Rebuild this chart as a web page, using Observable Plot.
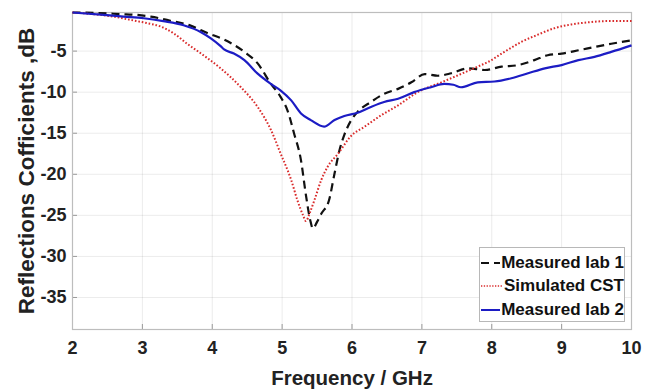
<!DOCTYPE html>
<html>
<head>
<meta charset="utf-8">
<script src="https://cdn.jsdelivr.net/npm/d3@7"></script>
<script src="https://cdn.jsdelivr.net/npm/@observablehq/plot@0.6"></script>
<style>
  html, body { margin: 0; padding: 0; background: #fff; }
  #wrap { position: relative; width: 657px; height: 392px; font-family: "Liberation Sans", Arial, sans-serif; }
  #legend { position: absolute; left: 479px; top: 247px; width: 146px; height: 75px; background: #fff; border: 1px solid #b8b8b8; box-sizing: border-box; padding-top: 3px; }
  .row { display: flex; align-items: center; height: 23.5px; font-weight: bold; font-size: 17px; color: #111; white-space: nowrap; }
  .row svg { margin-left: 1px; margin-right: 1px; }
</style>
</head>
<body>
<div id="wrap"><div id="chart"></div><div id="legend"></div></div>
<script>
// ---- data ----
const freqLab1 = [2.0,2.3,2.69,2.93,3.12,3.4,3.69,3.93,4.17,4.46,4.65,4.84,4.98,5.08,5.17,5.27,5.34,5.40,5.44,5.50,5.56,5.67,5.75,5.82,5.89,5.99,6.08,6.27,6.46,6.66,6.85,7.04,7.23,7.42,7.66,7.9,8.14,8.38,8.61,8.8,9.0,9.24,9.47,9.71,10.0];
const lab1 = [-0.3,-0.35,-0.5,-0.6,-0.8,-1.3,-1.9,-2.8,-3.6,-5.1,-6.5,-9.0,-10.6,-12.3,-15.0,-18.3,-22.5,-25.5,-26.6,-25.8,-24.8,-23.2,-19.9,-17.1,-15.2,-13.4,-12.4,-11.2,-10.2,-9.6,-8.8,-7.8,-8.0,-7.7,-7.1,-7.3,-6.9,-6.7,-6.1,-5.5,-5.3,-4.9,-4.5,-4.1,-3.7];

const freqSim = [2.0,2.3,2.59,2.83,3.07,3.26,3.45,3.64,3.84,4.12,4.41,4.65,4.84,4.98,5.13,5.22,5.30,5.34,5.40,5.46,5.56,5.65,5.8,5.99,6.18,6.42,6.66,6.94,7.28,7.61,7.85,7.95,8.18,8.42,8.66,8.9,9.14,9.38,9.62,10.0];
const sim = [-0.3,-0.5,-0.8,-1.2,-1.6,-2.0,-2.85,-4.1,-5.3,-7.1,-9.4,-11.8,-14.6,-17.5,-20.7,-23.2,-25.0,-25.7,-24.6,-23.2,-20.7,-19.1,-17.5,-15.3,-14.2,-12.8,-11.6,-10.0,-8.8,-7.6,-6.7,-6.3,-5.1,-3.9,-3.0,-2.2,-1.75,-1.5,-1.35,-1.35];

const freqLab2 = [2.0,2.45,2.73,3.02,3.3,3.59,3.84,3.98,4.12,4.17,4.31,4.46,4.65,4.84,4.98,5.13,5.27,5.41,5.6,5.75,5.89,6.08,6.27,6.46,6.66,6.89,7.13,7.32,7.45,7.56,7.8,8.04,8.28,8.52,8.76,9.0,9.24,9.47,9.71,10.0];
const lab2 = [-0.3,-0.6,-0.8,-1.0,-1.35,-1.85,-2.7,-3.45,-4.4,-4.8,-5.3,-6.1,-7.75,-9.0,-9.8,-11.0,-12.6,-13.4,-14.2,-13.4,-12.9,-12.5,-11.8,-11.2,-10.8,-10.0,-9.4,-9.0,-9.1,-9.4,-8.8,-8.7,-8.3,-7.7,-7.1,-6.7,-6.1,-5.7,-5.1,-4.3];

const seriesNames = ["Measured lab 1", "Simulated CST", "Measured lab 2"];
const xTicks = [2,3,4,5,6,7,8,9,10];
const yTicks = [-35,-30,-25,-20,-15,-10,-5];
const xLabel = "Frequency / GHz";
const yLabel = "Reflections Cofficients ,dB";

// ---- styles ----
const styles = [
  {stroke: "#111", strokeWidth: 2.2, dash: "8,5"},
  {stroke: "#d92b2b", strokeWidth: 2, dash: "1.6,1.9"},
  {stroke: "#1c1cc4", strokeWidth: 2.2, dash: null}
];

const toRows = (fs, vs) => fs.map((f, i) => ({f, v: vs[i]}));
const data = [toRows(freqLab1, lab1), toRows(freqSim, sim), toRows(freqLab2, lab2)];

const W = 657, H = 392, mT = 12, mB = 63, mL = 72, mR = 26;
const innerH = H - mT - mB, innerW = W - mL - mR;

const chart = Plot.plot({
  width: W, height: H,
  marginTop: mT, marginBottom: mB, marginLeft: mL, marginRight: mR,
  style: {fontFamily: '"Liberation Sans", Arial, sans-serif', fontWeight: "bold", background: "#fff", color: "#222", overflow: "visible"},
  x: {domain: [2, 10]},
  y: {domain: [-38.9, -0.3]},
  marks: [
    Plot.gridX(xTicks, {stroke: "#000", strokeOpacity: 0.08, strokeWidth: 1}),
    Plot.gridY(yTicks, {stroke: "#000", strokeOpacity: 0.08, strokeWidth: 1}),
    Plot.tickX(xTicks, {x: d => d, insetTop: innerH - 5, stroke: "#999"}),
    Plot.tickY(yTicks, {y: d => d, insetRight: innerW - 5, stroke: "#999"}),
    Plot.frame({stroke: "#bdbdbd", strokeWidth: 1.2}),
    Plot.axisX(xTicks, {tickSize: 0, tickPadding: 12, fontSize: 18, label: null, tickFormat: d => String(d)}),
    Plot.axisY(yTicks, {tickSize: 0, tickPadding: 6, fontSize: 18, label: null, tickFormat: d => String(d)}),
    Plot.text([xLabel], {text: d => d, frameAnchor: "bottom", textAnchor: "middle", dy: 55, fontSize: 20.5, fontWeight: "bold", fill: "#222"}),
    Plot.text([yLabel], {text: d => d, frameAnchor: "left", textAnchor: "middle", rotate: -90, dx: -46, fontSize: 22.5, fontWeight: "bold", fill: "#222"}),
    ...data.map((rows, i) => Plot.line(rows, {x: "f", y: "v", stroke: styles[i].stroke, strokeWidth: styles[i].strokeWidth, strokeDasharray: styles[i].dash, strokeLinecap: "butt", curve: "monotone-x"}))
  ]
});
document.getElementById("chart").appendChild(chart);

// ---- legend ----
const legend = document.getElementById("legend");
seriesNames.forEach((name, i) => {
  const row = document.createElement("div");
  row.className = "row";
  const s = styles[i];
  row.innerHTML = `<svg width="22" height="10"><line x1="0" y1="5" x2="22" y2="5" stroke="${s.stroke}" stroke-width="${i === 1 ? 1.6 : 2}" ${s.dash ? `stroke-dasharray="${i === 1 ? '1.3,1.5' : s.dash}"` : ""}/></svg><span>${name}</span>`;
  legend.appendChild(row);
});
</script>
</body>
</html>
